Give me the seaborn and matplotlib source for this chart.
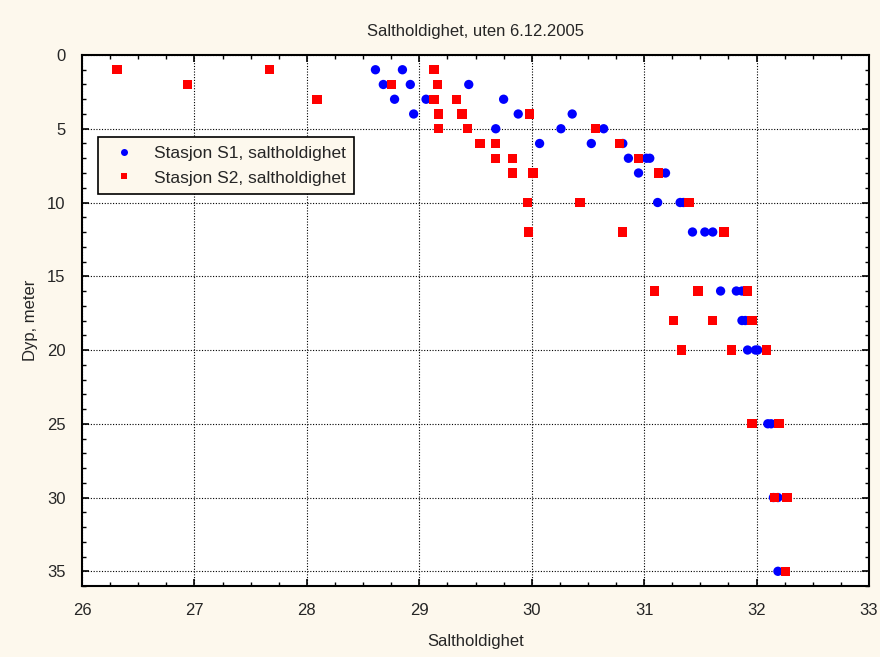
import pandas as pd
import matplotlib.pyplot as plt
from matplotlib.ticker import MultipleLocator
import seaborn as sns

# Station S1 salinity by depth
s1_depth = [1, 1, 2, 2, 2, 3, 3, 3, 4, 4, 4, 5, 5, 5, 6, 6, 6, 7, 7, 7, 8, 8,
            10, 10, 10, 12, 12, 12, 16, 16, 16, 18, 18, 20, 20, 20, 25, 25, 30, 30, 35]
s1_salt = [28.61, 28.85, 28.68, 28.92, 29.44, 28.78, 29.06, 29.75, 28.95, 29.88, 30.36,
           29.68, 30.26, 30.64, 30.07, 30.53, 30.81, 30.86, 31.02, 31.05, 30.95, 31.19,
           31.12, 31.32, 31.35, 31.43, 31.54, 31.61, 31.68, 31.82, 31.87, 31.87, 31.90,
           31.92, 31.99, 32.01, 32.10, 32.13, 32.15, 32.19, 32.19]

# Station S2 salinity by depth
s2_depth = [1, 1, 1, 2, 2, 2, 3, 3, 3, 4, 4, 4, 5, 5, 5, 6, 6, 6, 7, 7, 7, 8, 8, 8,
            10, 10, 10, 12, 12, 12, 16, 16, 16, 18, 18, 18, 20, 20, 20, 25, 25, 30, 30, 35]
s2_salt = [26.31, 27.67, 29.13, 26.94, 28.75, 29.16, 28.09, 29.13, 29.33, 29.17, 29.38, 29.98,
           29.17, 29.43, 30.57, 29.54, 29.68, 30.78, 29.68, 29.83, 30.95, 29.83, 30.01, 31.13,
           29.96, 30.43, 31.40, 29.97, 30.81, 31.71, 31.09, 31.48, 31.92, 31.26, 31.61, 31.96,
           31.33, 31.78, 32.09, 31.96, 32.20, 32.16, 32.27, 32.26]

labels = ['Stasjon S1, saltholdighet', 'Stasjon S2, saltholdighet']

data = pd.concat([
    pd.DataFrame({'Saltholdighet': s1_salt, 'Dyp': s1_depth, 'Stasjon': labels[0]}),
    pd.DataFrame({'Saltholdighet': s2_salt, 'Dyp': s2_depth, 'Stasjon': labels[1]}),
])

sns.set_style("ticks")
plt.rcParams['font.family'] = ['Liberation Sans', 'DejaVu Sans']
plt.rcParams['xtick.direction'] = 'in'
plt.rcParams['ytick.direction'] = 'in'

fig = plt.figure(figsize=(8.8, 6.57), dpi=100, facecolor='#fdf8ed')
ax = fig.add_axes([0.0932, 0.108, 0.8943, 0.8083])
ax.set_facecolor('white')

sns.scatterplot(data=data, x='Saltholdighet', y='Dyp', hue='Stasjon', style='Stasjon',
                palette={labels[0]: '#0000ff', labels[1]: '#ff0000'},
                markers={labels[0]: 'o', labels[1]: 's'},
                s=45, linewidth=0, alpha=1, ax=ax, zorder=3)

ax.set_xlim(26, 33)
ax.set_ylim(36, 0)
ax.xaxis.set_major_locator(MultipleLocator(1))
ax.xaxis.set_minor_locator(MultipleLocator(0.25))
ax.yaxis.set_major_locator(MultipleLocator(5))
ax.yaxis.set_minor_locator(MultipleLocator(1))
ax.tick_params(which='both', top=True, right=True, labelsize=12, color='black')
ax.tick_params(which='major', length=5, width=1.2, pad=12)
ax.tick_params(which='minor', length=3, width=1)
ax.grid(True, which='major', color='black', linestyle=(0, (1, 1.5)), linewidth=0.8, zorder=1)
ax.set_axisbelow(True)
for sp in ax.spines.values():
    sp.set_linewidth(1.5)
    sp.set_color('black')

ax.set_title('Saltholdighet, uten 6.12.2005', fontsize=12, pad=14)
ax.set_xlabel('Saltholdighet', fontsize=12, labelpad=12)
ax.set_ylabel('Dyp, meter', fontsize=12, labelpad=6)

leg = ax.legend(loc='upper left', bbox_to_anchor=(0.0203, 0.8456), fontsize=12.5,
                frameon=True, fancybox=False, framealpha=1, borderpad=0.5,
                borderaxespad=0, labelspacing=0.55, handletextpad=0.7, markerscale=0.75)
leg.get_frame().set_facecolor('#fdf8ed')
leg.get_frame().set_edgecolor('black')
leg.get_frame().set_linewidth(1.2)

fig.savefig('out.png', dpi=100, facecolor=fig.get_facecolor())
